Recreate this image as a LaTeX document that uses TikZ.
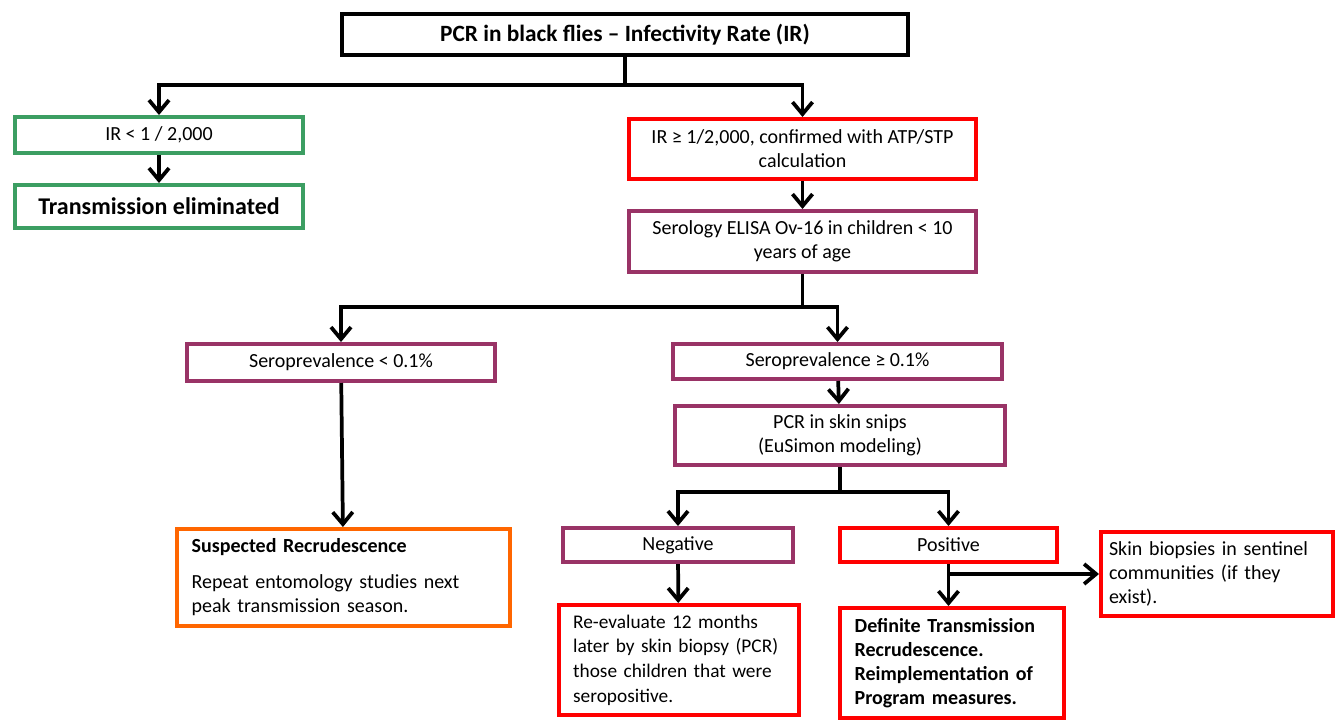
\documentclass[tikz,border=0pt]{standalone}
\usepackage{fontspec}
\setmainfont{Carlito}
\usetikzlibrary{arrows.meta}
\definecolor{boxgreen}{RGB}{60,158,98}
\definecolor{boxplum}{RGB}{153,51,102}
\definecolor{boxorange}{RGB}{255,102,0}
\definecolor{boxred}{RGB}{255,0,0}

\begin{document}
\begin{tikzpicture}[x=0.75pt,y=-0.75pt,font=\fontsize{15}{18}\selectfont]
\tikzstyle{box}=[rectangle,draw,fill=white,line width=3pt,inner sep=0pt,align=center]
\tikzstyle{leftbox}=[box,align=left,inner xsep=11pt]
\tikzstyle{greenbox}=[box,draw=boxgreen]
\tikzstyle{plumbox}=[box,draw=boxplum]
\tikzstyle{redbox}=[box,draw=boxred]
\tikzstyle{arr}=[-{Straight Barb[length=9pt,width=15pt]},line width=2.8pt]
\useasboundingbox (0,0) rectangle (1342,722);

\node[box,line width=3.5pt,minimum width=424.5pt,minimum height=30.75pt,font=\fontsize{17.5}{20}\selectfont\bfseries] (pcr) at (625,34.5) {PCR in black flies -- Infectivity Rate (IR)};
\node[greenbox,minimum width=216pt,minimum height=27pt] (irlow) at (159,135) {IR < 1 / 2,000};
\node[greenbox,minimum width=216pt,minimum height=32.25pt,font=\fontsize{18}{20}\selectfont\bfseries] (elim) at (159,206.5) {Transmission eliminated};
\node[redbox,minimum width=260.25pt,minimum height=45pt] (irhigh) at (802.5,149) {IR ≥ 1/2,000, confirmed with ATP/STP\\calculation};
\node[plumbox,minimum width=260.25pt,minimum height=45.75pt] (sero) at (802.5,241.5) {Serology ELISA Ov-16 in children < 10\\years of age};
\node[plumbox,minimum width=231pt,minimum height=27.75pt] (lowprev) at (341,362.5) {Seroprevalence < 0.1\%};
\node[plumbox,minimum width=246.75pt,minimum height=26.25pt] (highprev) at (837.5,361.5) {Seroprevalence ≥ 0.1\%};
\node[plumbox,minimum width=247.5pt,minimum height=44.25pt] (snips) at (840,435.5) {PCR in skin snips\\(EuSimon modeling)};
\node[leftbox,draw=boxorange,text width=227.75pt,minimum height=72.75pt] (susp) at (343.5,577.5) {\textbf{Suspected Recrudescence}\\[9pt]Repeat entomology studies next\\peak transmission season.};
\node[plumbox,minimum width=172.5pt,minimum height=25.5pt] (neg) at (678,545) {Negative};
\node[redbox,minimum width=162.75pt,minimum height=25.5pt] (pos) at (948.5,545) {Positive};
\node[leftbox,draw=boxred,inner xsep=11pt,text width=158pt,minimum height=82.5pt,font=\fontsize{14.5}{18.5}\selectfont] (reeval) at (678.5,660) {Re-evaluate 12 months\\later by skin biopsy (PCR)\\those children that were\\seropositive.};
\node[leftbox,draw=boxred,text width=146pt,minimum height=82.5pt,font=\fontsize{15}{18}\selectfont\bfseries] (defin) at (952,663) {Definite Transmission\\Recrudescence.\\Reimplementation of\\Program measures.};
\node[leftbox,draw=boxred,inner xsep=6pt,text width=162pt,minimum height=63pt] (sentin) at (1217,574) {Skin biopsies in sentinel\\communities (if they\\exist).};

% first split
\draw[line width=2.8pt] (pcr.south) -- ++(0,28) coordinate (split1);
\draw[arr] (split1) -| (irlow.north);
\draw[arr] (split1) -| (irhigh.north);
\path[arr] (irlow) edge (elim);
\path[arr] (irhigh) edge (sero);

% serology split
\draw[line width=2.8pt] (sero.south) -- ++(0,33) coordinate (split2);
\draw[arr] (split2) -| (lowprev.north);
\draw[arr] (split2) -| (highprev.north);
\path[arr] (lowprev) edge (susp);
\path[arr] (highprev) edge (snips);

% skin snips split
\draw[line width=2.8pt] (snips.south) -- ++(0,25) coordinate (split3);
\draw[arr] (split3) -| (neg.north);
\draw[arr] (split3) -| (pos.north);
\path[arr] (neg) edge (reeval);
\draw[arr] (pos.south) -- (pos.south |- defin.north);
\draw[arr] (pos.south |- sentin.west) -- (sentin.west);

\end{tikzpicture}
\end{document}
